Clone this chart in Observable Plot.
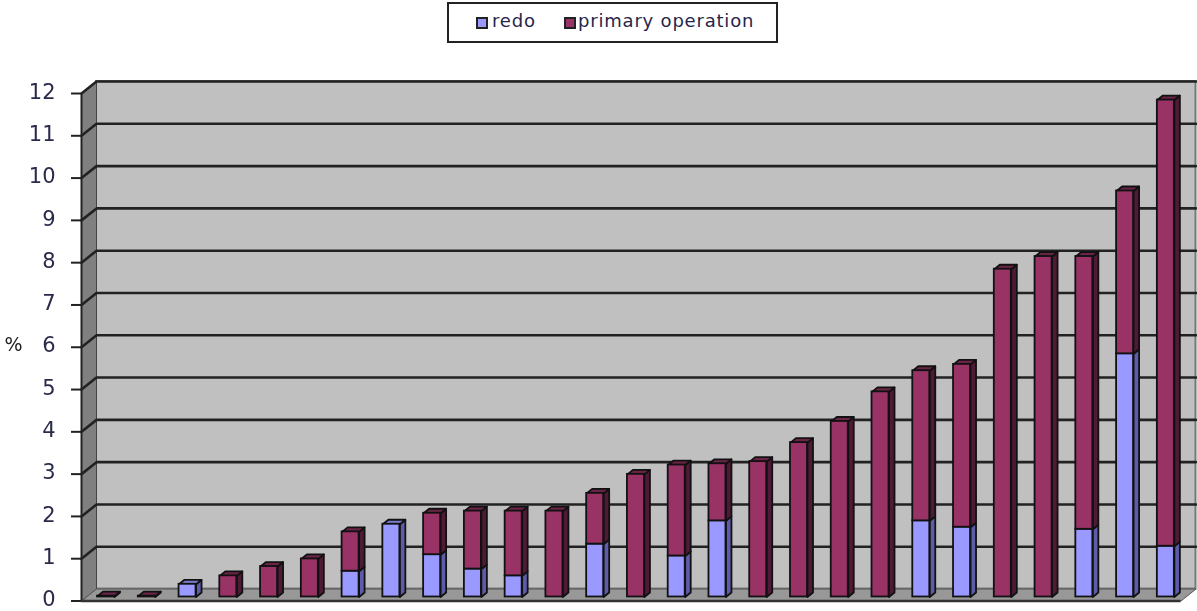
<!DOCTYPE html>
<html><head><meta charset="utf-8">
<script src="https://cdn.jsdelivr.net/npm/d3@7"></script>
<script src="https://cdn.jsdelivr.net/npm/@observablehq/plot@0.6"></script>
<style>
html,body{margin:0;padding:0;background:#fff;overflow:hidden}
#head{position:relative;height:42px;width:1197px;font-family:"DejaVu Sans",sans-serif;font-size:18px;letter-spacing:.8px;color:#26264a}
#box{position:absolute;left:447px;top:2px;width:327px;height:37px;border:2px solid #222;background:#fff}
.sw{position:absolute;top:13px;width:12px;height:12px;box-sizing:border-box;border:2px solid #222}
.lb{position:absolute;top:7px;line-height:20px;white-space:nowrap}
svg{display:block}
</style></head><body>
<div id="head"><div id="box"></div></div>
<div id="chart"></div>
<script>
const seriesNames = ["redo", "primary operation"];
const seriesColors = ["#9999FF", "#993366"];
const sideColors = ["#5C5CA8", "#4F1A35"];
const topColors = ["#7A7ACC", "#6B2447"];
const yTicks = [0,1,2,3,4,5,6,7,8,9,10,11,12];
const redo = [0,0,.3,0,0,0,.61,1.72,1.0,.66,.5,0,1.25,0,.97,1.8,0,0,0,0,1.8,1.65,0,0,1.6,5.75,1.2];
const primary = [.02,.02,0,.5,.72,.9,.93,0,.98,1.37,1.53,2.03,1.2,2.9,2.15,1.35,3.2,3.65,4.15,4.85,3.55,3.85,7.75,8.05,6.45,3.85,10.55];

// depth of the 3D box and of the bars, in scale units
const wallDX = .368, wallDY = .283, barW = .417, barDX = .135, barDY = .106, base = .095;
const xMin = -.393, xMax = 26.58;

const box = document.getElementById("box");
seriesNames.forEach((n,k)=>{
  const s=document.createElement("div"); s.className="sw"; s.style.background=seriesColors[k];
  s.style.left=(k?115:27)+"px"; box.appendChild(s);
  const t=document.createElement("div"); t.className="lb"; t.textContent=n;
  t.style.left=(k?129:43)+"px"; box.appendChild(t);
});

const barRows = redo.map((r,i)=>({i, r, p:primary[i], t:r+primary[i]}));
const sideFaces=[], topFaces=[], segs=[];
const poly=(arr,id,pts,k)=>pts.concat([pts[0]]).forEach(([x,y])=>arr.push({id,x,y,k}));
barRows.forEach(d=>{
  const x2=d.i+barW;
  const add=(k,a,b)=>{ if(b>a){
    segs.push({i:d.i,k,a:a+base,b:b+base});
    poly(sideFaces,`${d.i}-${k}`,[[x2,a+base],[x2+barDX,a+base+barDY],[x2+barDX,b+base+barDY],[x2,b+base]],k);
  }};
  add(0,0,d.r); add(1,d.r,d.t);
  poly(topFaces,`t${d.i}`,[[d.i,d.t+base],[x2,d.t+base],[x2+barDX,d.t+base+barDY],[d.i+barDX,d.t+base+barDY]],d.p>0?1:0);
});
const leftWall=[],floorFace=[],grid=[];
poly(leftWall,"l",[[xMin,0],[xMin+wallDX,wallDY],[xMin+wallDX,12+wallDY],[xMin,12]],0);
poly(floorFace,"f",[[xMin,0],[xMin+wallDX,wallDY],[xMax+wallDX,wallDY],[xMax,0]],0);
yTicks.filter(v=>v>0).forEach(v=>{
  grid.push({id:v,x:xMin,y:v},{id:v,x:xMin+wallDX,y:v+wallDY},{id:v,x:xMax+wallDX,y:v+wallDY});
});

const faces=(rows,palette)=>seriesNames.map((_,k)=>Plot.line(rows.filter(o=>o.k===k),{x:"x",y:"y",z:"id",fill:palette[k],stroke:"#111",strokeWidth:1.8,strokeLinejoin:"round"}));

const plot = Plot.plot({
  width:1197, height:569,
  marginLeft:81, marginRight:1.5, marginTop:51, marginBottom:10.5,
  x:{domain:[xMin,xMax+wallDX],axis:null},
  y:{domain:[0,12],axis:null},
  style:{background:"transparent",fontFamily:"'DejaVu Sans',sans-serif",color:"#222"},
  marks:[
    Plot.rect([0],{x1:xMin+wallDX,x2:xMax+wallDX,y1:wallDY,y2:12+wallDY,fill:"#C0C0C0",stroke:"#777",strokeWidth:2}),
    Plot.line(leftWall,{x:"x",y:"y",z:"id",fill:"#808080",stroke:"#444",strokeWidth:1}),
    Plot.line(floorFace,{x:"x",y:"y",z:"id",fill:"#989898",stroke:"#555",strokeWidth:1}),
    Plot.line(grid,{x:"x",y:"y",z:"id",stroke:"#222",strokeWidth:2.6}),
    Plot.ruleX([xMin],{y1:0,y2:12,stroke:"#222",strokeWidth:2}),
    Plot.ruleY([0],{x1:xMin,x2:xMax,stroke:"#333",strokeWidth:2.4}),
    ...faces(sideFaces,sideColors),
    ...faces(topFaces,topColors),
    ...seriesNames.map((_,k)=>Plot.rect(segs.filter(s=>s.k===k),{x1:"i",x2:d=>d.i+barW,y1:"a",y2:"b",fill:seriesColors[k],stroke:"#111",strokeWidth:1.8})),
    Plot.axisY(yTicks,{anchor:"left",tickSize:10,tickFormat:()=>"",stroke:"#222",strokeWidth:2,label:null}),
    Plot.axisY(yTicks,{anchor:"left",tickSize:0,tickPadding:26,dy:-1.5,fontSize:21,fill:"#2a2a4a",label:null}),
    Plot.text(["%"],{frameAnchor:"left",dx:-68,y:[6],dy:-2,fontSize:19,fill:"#222",textAnchor:"middle"})
  ]
});
document.getElementById("chart").appendChild(plot);
plot.style.filter="blur(.5px)";
</script></body></html>
